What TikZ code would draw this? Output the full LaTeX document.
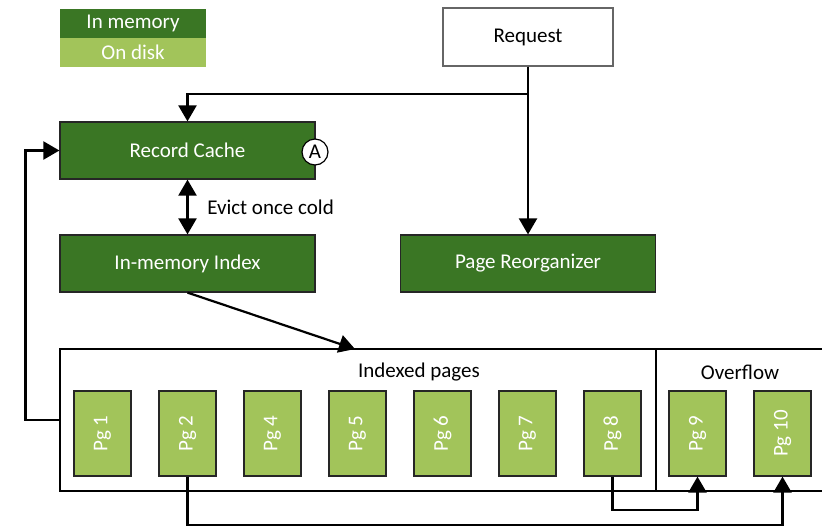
\documentclass[tikz,border=0pt]{standalone}
\usepackage{fontspec}
\setmainfont{Carlito}
\usetikzlibrary{arrows.meta}

\definecolor{memgreen}{RGB}{58,118,36}
\definecolor{diskgreen}{RGB}{162,196,90}
\definecolor{edgegray}{RGB}{38,38,38}

\begin{document}
\begin{tikzpicture}[x=0.5pt,y=-0.5pt,line width=1.1pt,
  font=\fontsize{10.5}{12}\selectfont,
  >={Triangle[length=8pt,width=9pt]},
  membox/.style={draw=edgegray,line width=0.6pt,fill=memgreen,text=white,
    minimum width=127.5pt,minimum height=28.5pt,inner sep=0pt},
  pagebox/.style={draw=edgegray,line width=0.6pt,fill=diskgreen,text=white,
    minimum width=28.5pt,minimum height=42.5pt,inner sep=0pt},
  legendbox/.style={fill=#1,text=white,minimum width=73pt,minimum height=14.5pt,inner sep=0pt},
  region/.style={draw,line width=0.6pt,minimum height=71pt,inner sep=0pt}]
  \useasboundingbox (0,0) rectangle (822,526);

  % legend
  \node[legendbox=memgreen] (legmem) at (133,23.5) {In memory};
  \node[legendbox=diskgreen] (legdisk) at (133,52.5) {On disk};

  % components
  \node[draw=gray!80!black,line width=0.6pt,fill=white,minimum width=85pt,minimum height=29pt] (request) at (528,37) {Request};
  \node[membox] (cache) at (187.5,150.5) {Record Cache};
  \node[draw,fill=white,circle,line width=0.6pt,minimum size=13pt,inner sep=0pt] (markA) at (315,152) {A};
  \node[membox] (index) at (187.5,263.5) {In-memory Index};
  \node[membox] (reorg) at (528,263.5) {Page Reorganizer};

  % page regions
  \node[region,minimum width=298pt] (indexed) at (358,420) {};
  \node[region,minimum width=102pt] (overflow) at (758,420) {};
  \node (idxtitle) at (419,372) {Indexed pages};
  \node (ovftitle) at (740,372) {Overflow};
  \foreach \i/\n in {1/1,2/2,3/4,4/5,5/6,6/7,7/8,8/9,9/10}
    \node[pagebox] (p\n) at ({102.5+85*(\i-1)},433.5) {\rotatebox{90}{Pg \n}};

  % request paths
  \coordinate (split) at (528,94);
  \draw (request.south) -- (split);
  \draw[->] (split) -| (cache.north);
  \draw[->] (request.south) -- (reorg.north);

  % eviction and lookup
  \draw[<->] (cache.south) -- node[right=6pt] {Evict once cold} (index.north);
  \coordinate (land) at (355,349);
  \draw[->] (index.south) -- (land);
  \draw[->] (indexed.west) -- ++(-34,0) |- (cache.west);

  % overflow chains
  \draw[->] (p2.south) -- ++(0,48) -| (p10.south);
  \draw[->] (p8.south) -- ++(0,33) -| (p9.south);
\end{tikzpicture}
\end{document}
